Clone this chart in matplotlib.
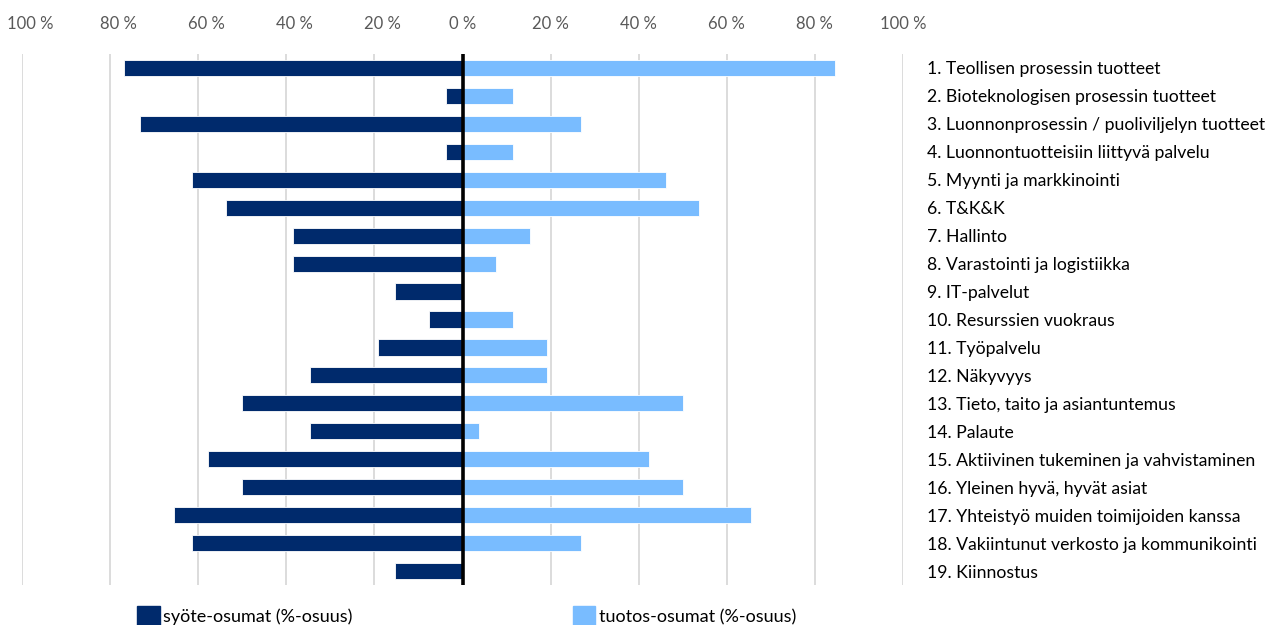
import matplotlib
matplotlib.use("Agg")
from matplotlib import pyplot as plt
from matplotlib.patches import Patch
from matplotlib.transforms import ScaledTranslation

# categories and shares (%)
categories = [
    "1. Teollisen prosessin tuotteet",
    "2. Bioteknologisen prosessin tuotteet",
    "3. Luonnonprosessin / puoliviljelyn tuotteet",
    "4. Luonnontuotteisiin liittyvä palvelu",
    "5. Myynti ja markkinointi",
    "6. T&K&K",
    "7. Hallinto",
    "8. Varastointi ja logistiikka",
    "9. IT-palvelut",
    "10. Resurssien vuokraus",
    "11. Työpalvelu",
    "12. Näkyvyys",
    "13. Tieto, taito ja asiantuntemus",
    "14. Palaute",
    "15. Aktiivinen tukeminen ja vahvistaminen",
    "16. Yleinen hyvä, hyvät asiat",
    "17. Yhteistyö muiden toimijoiden kanssa",
    "18. Vakiintunut verkosto ja kommunikointi",
    "19. Kiinnostus",
]
syote = [76.9, 3.8, 73.1, 3.8, 61.5, 53.8, 38.5, 38.5, 15.4, 7.7,
         19.2, 34.6, 50.0, 34.6, 57.7, 50.0, 65.4, 61.5, 15.4]
tuotos = [84.6, 11.5, 26.9, 11.5, 46.2, 53.8, 15.4, 7.7, 0.0, 11.5,
          19.2, 19.2, 50.0, 3.8, 42.3, 50.0, 65.4, 26.9, 0.0]
ticks = [-100, -80, -60, -40, -20, 0, 20, 40, 60, 80, 100]

dark = "#002a6c"
light = "#79bcff"

plt.rcParams["font.family"] = ["Lato", "DejaVu Sans"]

fig = plt.figure(figsize=(12.71, 6.25), dpi=100)
ax = fig.add_axes([22 / 1271, 1 - 585 / 625, 881 / 1271, 531 / 625])

y = list(range(len(categories)))
ax.barh(y, [-v for v in syote], height=0.58, color=dark, edgecolor="white", linewidth=0.6, zorder=2)
ax.barh(y, tuotos, height=0.58, color=light, edgecolor="white", linewidth=0.6, zorder=2)
ax.axvline(0, color="black", linewidth=2.6, zorder=3)

ax.set_xlim(-100, 100)
ax.set_ylim(len(categories) - 0.5, -0.5)
ax.set_xticks(ticks)
ax.set_xticklabels([f"{abs(t)} %" for t in ticks])
ax.xaxis.tick_top()
ax.tick_params(axis="x", length=0, pad=16, labelsize=12, labelcolor="#595959")
ax.grid(axis="x", color="#d9d9d9", linewidth=1.3, zorder=0)

# left-side labels sit a little right of their gridlines in the original
for t, lab in zip(ticks, ax.get_xticklabels()):
    if t < 0:
        lab.set_transform(lab.get_transform() + ScaledTranslation(8 / 100, 0, fig.dpi_scale_trans))

ax.yaxis.tick_right()
ax.set_yticks(y)
ax.set_yticklabels(categories)
ax.tick_params(axis="y", length=0, pad=17, labelsize=12.7, labelcolor="black")

for s in ax.spines.values():
    s.set_visible(False)

handles = [Patch(color=dark, label="syöte-osumat (%-osuus)"),
           Patch(color=light, label="tuotos-osumat (%-osuus)")]
fig.legend(handles=handles, loc="center left", bbox_to_anchor=(137 / 1271, 1 - 616 / 625),
           ncol=2, frameon=False, fontsize=13, handlelength=1.25, handleheight=1.4,
           handletextpad=0.2, columnspacing=12.2, borderpad=0, borderaxespad=0)

fig.savefig("out.png", dpi=100)
